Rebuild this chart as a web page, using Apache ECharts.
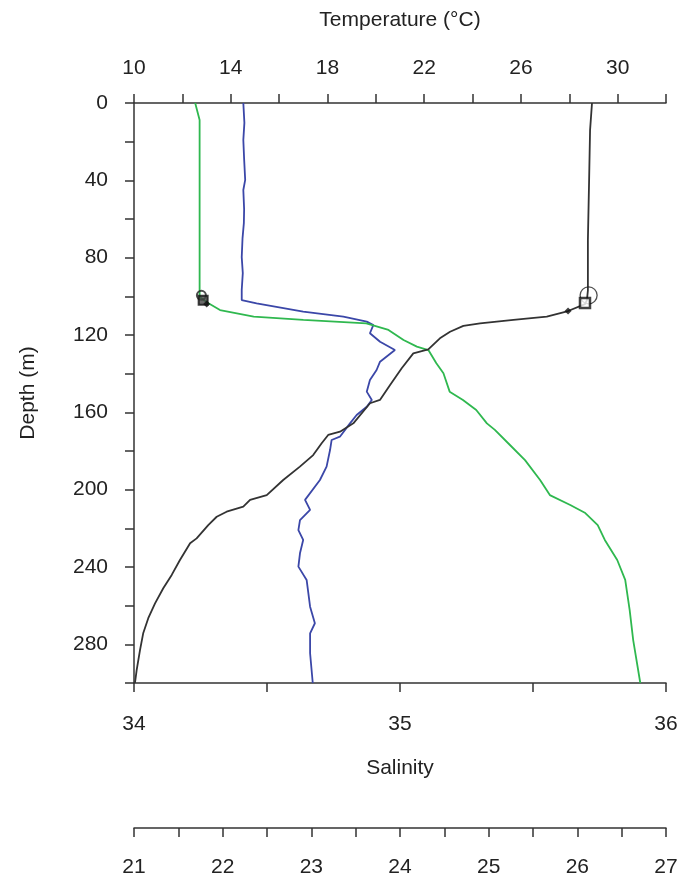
<!DOCTYPE html>
<html>
<head>
<meta charset="utf-8">
<script src="https://cdn.jsdelivr.net/npm/echarts@6/dist/echarts.min.js"></script>
<style>
html,body{margin:0;padding:0;background:#fff;}
#chart{width:686px;height:883px;}
</style>
</head>
<body>
<div id="chart"></div>
<script>
// Temperature profile (°C) vs depth (m)
const tempDepth = [0,14,40,71,97,102,104,107.6,110.5,112.2,114,115.3,118.3,121.7,127.4,129.5,137.2,145.9,153.6,155.3,165.7,170,171.7,176,182.1,188.1,195,202.8,205.3,208.8,211.4,214,218.3,225.2,227.7,236.4,244.1,251,258.8,266.5,274.3,282.9,293.3,300];
const tempVals  = [28.94,28.86,28.82,28.77,28.77,28.73,28.65,27.95,27.07,25.69,24.31,23.62,23.07,22.65,22.17,21.55,21.07,20.59,20.17,19.76,19.07,18.52,18.03,17.76,17.41,16.86,16.17,15.49,14.80,14.52,13.83,13.42,13.07,12.59,12.32,11.90,11.56,11.21,10.87,10.59,10.38,10.25,10.11,10.04];

// Salinity profile vs depth (m)
const salDepth = [0,10.3,19.1,29,39.8,45,55,62.1,70,79.7,88,96.7,101.9,103.6,107.9,110.5,113.1,114.8,119.1,123.5,127.8,133.8,138.1,143.3,149.3,153.6,157.1,161.4,165.7,172.6,174.3,179.5,188.1,195,205.3,210.5,215.7,220.9,226,232.9,239.8,246.7,260.5,269.1,274.3,284.6,300];
const salVals  = [34.411,34.415,34.411,34.414,34.418,34.411,34.414,34.413,34.408,34.405,34.409,34.405,34.405,34.461,34.636,34.787,34.875,34.900,34.887,34.925,34.981,34.925,34.912,34.887,34.875,34.894,34.875,34.837,34.812,34.774,34.743,34.737,34.724,34.699,34.643,34.662,34.624,34.618,34.636,34.624,34.618,34.649,34.662,34.680,34.662,34.662,34.672];

// Density (sigma-t) profile vs depth (m)
const denDepth = [0,8.8,45,95,100.3,103.6,107.1,110.5,112.2,114,117.4,122.6,126,127.8,134.6,139.8,149.3,153.6,158.8,165.7,169.1,176.9,184.7,195,202.8,207.9,212.1,218.3,226,236.4,246.7,262.2,277.8,300];
const denVals  = [21.69,21.74,21.74,21.74,21.74,21.84,21.97,22.35,22.91,23.62,23.87,24.04,24.19,24.32,24.41,24.49,24.56,24.71,24.86,24.98,25.07,25.24,25.41,25.58,25.69,25.92,26.09,26.23,26.31,26.45,26.54,26.59,26.63,26.71];

// Mixed-layer markers (temperature axis, depth)
const tempMarkCircle = [28.80, 99.5];
const tempMarkSquare = [28.65, 103.5];
const tempMarkStar   = [27.95, 107.6];
// Mixed-layer markers (density axis, depth)
const denMarkCircle = [21.76, 99.5];
const denMarkSquare = [21.78, 102.0];
const denMarkStar   = [21.82, 104.0];

const tempTicks = {min:10, max:32, step:2};
const salTicks  = {min:34, max:36, step:0.5};
const denTicks  = {min:21, max:27, step:0.5};
const depthTicks = {min:0, max:300, step:20};

const zip = (xs, ys) => xs.map((x,i)=>[x, ys[i]]);

const FONT = 'Liberation Sans';
const TXT = '#222';
const FS = 21;
const AX = {lineStyle:{color:'#333', width:1.5}};
const TICK = {show:true, inside:false, length:9, lineStyle:{color:'#333', width:1.5}};

const chart = echarts.init(document.getElementById('chart'));
chart.setOption({
  animation:false,
  backgroundColor:'#fff',
  grid:{left:134, right:20, top:103, bottom:200, containLabel:false},
  xAxis:[
    {type:'value', position:'top', min:tempTicks.min, max:tempTicks.max, interval:tempTicks.step,
     name:'Temperature (°C)', nameLocation:'middle', nameGap:72,
     nameTextStyle:{fontFamily:FONT, fontSize:21, color:TXT},
     axisLine:AX, axisTick:TICK, splitLine:{show:false},
     axisLabel:{fontFamily:FONT, fontSize:FS, color:TXT, margin:24,
       formatter:v => ((v-10)%4===0 && v<=30) ? String(v) : ''}},
    {type:'value', position:'bottom', min:salTicks.min, max:salTicks.max, interval:salTicks.step,
     name:'Salinity', nameLocation:'middle', nameGap:75,
     nameTextStyle:{fontFamily:FONT, fontSize:21, color:TXT},
     axisLine:AX, axisTick:TICK, splitLine:{show:false},
     axisLabel:{fontFamily:FONT, fontSize:FS, color:TXT, margin:31,
       formatter:v => Number.isInteger(v) ? String(v) : ''}},
    {type:'value', position:'bottom', offset:145, min:denTicks.min, max:denTicks.max, interval:denTicks.step,
     axisLine:AX, axisTick:TICK, splitLine:{show:false},
     axisLabel:{fontFamily:FONT, fontSize:FS, color:TXT, margin:29,
       formatter:v => Number.isInteger(v) ? String(v) : ''}}
  ],
  yAxis:[
    {type:'value', inverse:true, min:depthTicks.min, max:depthTicks.max, interval:depthTicks.step,
     name:'Depth (m)', nameLocation:'middle', nameGap:95,
     nameTextStyle:{fontFamily:FONT, fontSize:21, color:TXT},
     axisLine:AX, axisTick:TICK, splitLine:{show:false},
     axisLabel:{fontFamily:FONT, fontSize:FS, color:TXT, margin:26,
       formatter:v => (v%40===0) ? String(v) : ''}}
  ],
  series:[
    {type:'line', name:'Salinity', xAxisIndex:1, yAxisIndex:0, data:zip(salVals, salDepth),
     showSymbol:false, lineStyle:{color:'#3b47a8', width:1.8}, z:2},
    {type:'line', name:'Density', xAxisIndex:2, yAxisIndex:0, data:zip(denVals, denDepth),
     showSymbol:false, lineStyle:{color:'#2fb84f', width:1.8}, z:3},
    {type:'line', name:'Temperature', xAxisIndex:0, yAxisIndex:0, data:zip(tempVals, tempDepth),
     showSymbol:false, lineStyle:{color:'#333', width:1.8}, z:4},
    {type:'scatter', xAxisIndex:0, data:[tempMarkCircle], symbol:'circle', symbolSize:17,
     itemStyle:{color:'rgba(0,0,0,0)', borderColor:'#222', borderWidth:1.3}, z:5},
    {type:'scatter', xAxisIndex:0, data:[tempMarkSquare], symbol:'rect', symbolSize:10,
     itemStyle:{color:'#fff', borderColor:'#111', borderWidth:2.5}, z:6},
    {type:'scatter', xAxisIndex:0, data:[tempMarkStar], symbol:'diamond', symbolSize:7,
     itemStyle:{color:'#111'}, z:6},
    {type:'scatter', xAxisIndex:2, data:[denMarkCircle], symbol:'circle', symbolSize:9,
     itemStyle:{color:'rgba(0,0,0,0)', borderColor:'#222', borderWidth:2}, z:5},
    {type:'scatter', xAxisIndex:2, data:[denMarkSquare], symbol:'rect', symbolSize:9,
     itemStyle:{color:'#444', borderColor:'#111', borderWidth:2}, z:6},
    {type:'scatter', xAxisIndex:2, data:[denMarkStar], symbol:'diamond', symbolSize:7,
     itemStyle:{color:'#111'}, z:6}
  ]
});
</script>
</body>
</html>
